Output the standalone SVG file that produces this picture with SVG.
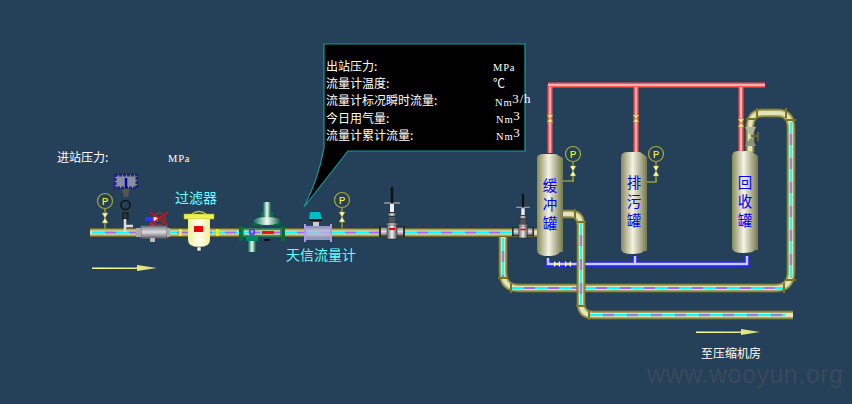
<svg xmlns="http://www.w3.org/2000/svg" width="852" height="404" viewBox="0 0 852 404">
<style>
text{font-family:"Noto Sans CJK SC","Noto Sans",sans-serif}
.w{fill:#fff;font-size:12px}
.c{fill:#6ff;font-size:14px}
.b{fill:#00f;font-size:14.500px;text-anchor:middle}
.u{fill:#fff;font-family:"Liberation Serif",serif;font-size:10.500px;letter-spacing:.8px}
.p0{fill:none;stroke:#6c6c28;stroke-width:9}
.p1{fill:none;stroke:#a5a565;stroke-width:7}
.p2{fill:none;stroke:#e4e4b8;stroke-width:4}
.p4{fill:none;stroke:#0ff;stroke-width:1.800;stroke-dasharray:13 11}
.p5{fill:none;stroke:#96f;stroke-width:1.800;stroke-dasharray:11 13;stroke-dashoffset:-13}
.p6{fill:none;stroke:#88d;stroke-width:2.500;stroke-dasharray:11 13;stroke-dashoffset:-13}
.r1{fill:none;stroke:#f55;stroke-width:5}
.r2{fill:none;stroke:#fcc;stroke-width:1.500}
.bl1{fill:none;stroke:#22e;stroke-width:6}
.bl2{fill:none;stroke:#ccf;stroke-width:2.500}
.pc{fill:none;stroke:#aa3;stroke-width:1.200}
.pt{fill:#ff0;font-family:"Liberation Mono",monospace;font-size:11px;text-anchor:middle}
.st{fill:none;stroke:#993;stroke-width:1.500}
.bow{fill:#ffa;stroke:#884;stroke-width:.5}
.gy{fill:url(#gv);stroke:#222;stroke-width:.5}
</style>
<defs>
<linearGradient id="tk"><stop offset="0" stop-color="#88885a"/><stop offset=".45" stop-color="#f4f4e4"/><stop offset="1" stop-color="#77774c"/></linearGradient>
<linearGradient id="gv"><stop offset="0" stop-color="#666"/><stop offset=".5" stop-color="#eee"/><stop offset="1" stop-color="#555"/></linearGradient>
<linearGradient id="gvv" x2="0" y2="1"><stop offset="0" stop-color="#778"/><stop offset=".5" stop-color="#ddd"/><stop offset="1" stop-color="#667"/></linearGradient>
<linearGradient id="gn"><stop offset="0" stop-color="#065"/><stop offset=".5" stop-color="#efe"/><stop offset="1" stop-color="#054"/></linearGradient>
<linearGradient id="yf"><stop offset="0" stop-color="#ee9"/><stop offset=".5" stop-color="#ffe"/><stop offset="1" stop-color="#ee9"/></linearGradient>
<linearGradient id="ar"><stop offset="0" stop-color="#ff9"/><stop offset="1" stop-color="#dd7"/></linearGradient>
<g id="pg"><circle cx="0" cy="0" r="7.500" class="pc"/><text x="0" y="4" class="pt">P</text><path d="M0 7.500V28" class="st"/><path d="M-3 12H3L-3 22H3Z" class="bow"/></g>
<g id="gate"><path d="M-8 -29H8" stroke="#999" stroke-width="1.500"/><path d="M0 -45V-29" stroke="#111" stroke-width="2.500"/><path d="M-2 -28H2V-20H-2Z" fill="#eee"/><path d="M-4 -19H4V-16H-4Z" class="gy"/><path d="M-3 -15H3V-9H-3Z" fill="#555"/><path d="M-6 -9H6V-6H-6Z" class="gy"/><rect x="-12" y="-5" width="24" height="9" fill="url(#gvv)" stroke="#222"/><path d="M-12 -6V5M12 -6V5" stroke="#222" stroke-width="1.500"/><rect x="-5" y="-7" width="10" height="14" fill="url(#gv)" stroke="#222" stroke-width=".5"/><rect x="-3" y="-4" width="6" height="2" fill="#e00"/></g>
</defs>
<rect width="852" height="404" fill="#254059"/>
<g id="connectors">
<path id="red-main" class="r1" d="M548 85H765M550 85V153M636 85V152M741 85V152"/>
<path class="r2" d="M548 85H765M550 87V153M636 87V152M741 87V152"/>
<path class="bl1" d="M548 259V264H747V256M635 264V256"/>
<path class="bl2" d="M548 258V264H747V256M635 264V256"/>
<g id="return-pipe">
<path class="p0" d="M503 232V272Q503 288 519 288H775Q791 288 791 272V128Q791 113 778 113H762Q750 113 750 128V152"/>
<path class="p1" d="M503 232V272Q503 288 519 288H775Q791 288 791 272V128Q791 113 778 113H762Q750 113 750 128V152"/>
<path class="p2" d="M503 232V272Q503 288 519 288H775Q791 288 791 272V128Q791 113 778 113H762Q750 113 750 128V152"/>
<path class="p6" d="M503 238V278M791 278V122"/>
<path class="p4" d="M503 238V278M511 288H783M791 278V122"/>
<path class="p5" d="M511 288H783"/>
</g>
<g id="outlet-pipe">
<path class="p0" d="M561 214H571Q581 214 581 226V303Q581 315 593 315H793"/>
<path class="p1" d="M561 214H571Q581 214 581 226V303Q581 315 593 315H793"/>
<path class="p2" d="M561 214H571Q581 214 581 226V303Q581 315 593 315H793"/>
<path class="p6" d="M581 222V306M590 315H785"/>
<path class="p4" d="M581 222V306M590 315H785"/>
</g>
<g id="main-pipe">
<path class="p0" d="M90 232.500H538"/><path class="p1" d="M90 232.500H538"/><path class="p2" d="M90 232.500H538"/>
<path class="p4" d="M92 232.500H530"/><path class="p5" d="M92 232.500H530"/>
</g>
<g fill="#7d7420">
<rect x="498" y="277" width="10" height="2"/><rect x="510" y="283" width="2" height="10"/><rect x="783" y="283" width="2" height="10"/><rect x="786" y="279" width="10" height="2"/>
<rect x="576" y="221" width="10" height="2"/><rect x="574" y="209" width="2" height="10"/><rect x="576" y="305" width="10" height="2"/><rect x="588" y="310" width="2" height="10"/>
<rect x="785" y="108" width="2" height="10"/><rect x="786" y="119" width="10" height="2"/><rect x="756" y="108" width="2" height="10"/><rect x="746" y="118" width="10" height="2"/>
</g>
</g>
<g id="tank-buffer"><path d="M537 158Q537 154 544 154H556Q559 156 563 158V252H560Q558 256 548 256Q537 256 537 250Z" fill="url(#tk)"/><text x="550" y="191" class="b">缓</text><text x="550" y="210" class="b">冲</text><text x="550" y="229" class="b">罐</text></g>
<g id="tank-drain"><path d="M621 157Q621 152 628 152H640Q643 154 647 157V251H644Q642 254 632 254Q621 254 621 249Z" fill="url(#tk)"/><text x="634" y="188" class="b">排</text><text x="634" y="207" class="b">污</text><text x="634" y="226" class="b">罐</text></g>
<g id="tank-recovery"><path d="M732 156Q732 151 739 151H751Q754 153 758 156V250H755Q753 253 743 253Q732 253 732 248Z" fill="url(#tk)"/><text x="745" y="188" class="b">回</text><text x="745" y="207" class="b">收</text><text x="745" y="226" class="b">罐</text></g>
<g id="red-valves" fill="#ff8" stroke="#a83" stroke-width=".6">
<path d="M547 115H553L547 122H553Z"/><path d="M633 115H639L633 122H639Z"/><path d="M738 119H744L738 127H744Z"/>
</g>
<g id="recovery-valve"><path d="M745 127H756L751 137Z" fill="#b5b59a"/><path d="M745 146H756L751 137Z" fill="#8f8f80"/><path d="M751 136H758M758 132V141" stroke="#664" stroke-width="1.800" fill="none"/></g>
<g id="blue-valves" fill="#ff8"><path d="M554 261V267L560 261V267Z"/><path d="M565 261V267L571 261V267Z"/></g>
<use id="pg-buffer" href="#pg" x="573" y="154"/>
<path d="M573 178V181H563" class="st"/>
<use id="pg-drain" href="#pg" x="656" y="154"/>
<path d="M656 178V182H647" class="st"/>
<use id="pg-flow" href="#pg" x="342" y="200"/>
<use id="pg-inlet" href="#pg" x="105" y="201"/>
<g id="transmitter">
<rect x="115" y="175" width="22" height="13" fill="#88919a" stroke="#228" stroke-width="3" stroke-dasharray="3 1"/>
<path d="M126 178V188" stroke="#00a" stroke-width="2.500"/>
<path d="M122 189H130L128 197H124Z" fill="#555"/>
<circle cx="125.500" cy="205" r="4.500" fill="none" stroke="#111" stroke-width="1.500"/>
<rect x="123" y="213" width="5" height="6" fill="#333" stroke="#111"/>
<path d="M125 219V232M125 226H133" stroke="#ddd" stroke-width="2.500" fill="none"/>
</g>
<g id="ball-valve">
<rect x="141" y="226" width="26" height="12" fill="url(#gvv)" stroke="#666"/>
<path d="M136 228H141V237H136ZM167 228H170V237H167Z" fill="#aaa"/>
<path d="M150 238h5v4h-5z" fill="#bbb"/>
<path d="M150 222L156 226H150Z" fill="#855"/>
<rect x="145" y="217" width="9" height="4" fill="#33f"/>
<rect x="153" y="217" width="5" height="4" fill="#ddd"/>
<circle cx="159" cy="219" r="6" fill="none" stroke="#a33" stroke-width="1"/>
<path d="M150 212L168 225M168 212L150 225" stroke="#f00" stroke-width="1.500"/>
</g>
<g id="filter">
<text x="175" y="203" class="c">过滤器</text>
<rect x="184" y="214" width="30" height="5" fill="#ee5" stroke="#aa2" stroke-width=".5"/>
<path d="M192 214Q199 209 206 214" fill="none" stroke="#cc3" stroke-width="1.500"/>
<path d="M188 219H210V240Q210 247 199 247Q188 247 188 240Z" fill="url(#yf)"/>
<rect x="194" y="226" width="9" height="6" fill="#e00"/>
<rect x="197" y="247" width="4" height="4" fill="#eee" stroke="#222" stroke-width=".5"/>
<rect x="179" y="229" width="3" height="7" fill="#ee0"/><rect x="216" y="229" width="3" height="7" fill="#ee0"/>
</g>
<g id="regulator">
<rect x="239" y="226" width="4" height="15" fill="#0a6a3a"/><rect x="281" y="226" width="4" height="15" fill="#0a6a3a"/>
<rect x="243" y="229" width="38" height="7" fill="none" stroke="#186" stroke-width="1.500"/>
<path d="M252 223H281V226H252Z" fill="#064"/>
<ellipse cx="267" cy="221" rx="14" ry="4" fill="url(#gn)"/>
<path d="M261 212H273V217H261Z" fill="#074"/>
<rect x="263" y="202" width="8" height="15" rx="2" fill="url(#gn)"/>
<path d="M246 236H258V241H246Z" fill="#086"/>
<rect x="248" y="241" width="8" height="11" fill="url(#gn)"/>
<circle cx="252" cy="232" r="2.500" fill="none" stroke="#44c" stroke-width="1.500"/>
<rect x="262" y="231" width="12" height="3" fill="#e11"/>
<rect x="264" y="239" width="6" height="2" fill="#111"/>
</g>
<g id="flowmeter">
<text x="286" y="260" class="c">天信流量计</text>
<rect x="305" y="226" width="26" height="14" fill="#b5b5e8" opacity=".75"/>
<path d="M305 224V242M331 224V242" stroke="#a9e" stroke-width="2"/>
<path d="M313 222H319V226H313Z" fill="#ccc"/>
<path d="M309 219H322V221H309Z" fill="#111"/>
<path d="M310 212H320L322 219H309Z" fill="#0bc"/>
</g>
<use id="gate-1" href="#gate" x="392" y="232"/>
<use id="gate-2" href="#gate" transform="translate(523 232) scale(.85)"/>
<g id="callout">
<path d="M324 44H525V151H348L304 207Q318 180 324 148Z" fill="#000" stroke="#1a9a9a" stroke-width="1.200"/>
<text x="326" y="71" class="w">出站压力:</text>
<text x="326" y="88" class="w">流量计温度:</text>
<text x="326" y="105" class="w">流量计标况瞬时流量:</text>
<text x="326" y="123" class="w">今日用气量:</text>
<text x="326" y="140" class="w">流量计累计流量:</text>
<text x="493" y="71" class="u">MPa</text>
<text x="493" y="88" fill="#fff" font-size="12">℃</text>
<text x="495" y="106" class="u">Nm<tspan dy="-3" font-size="13">3/h</tspan></text>
<text x="496" y="123" class="u">Nm<tspan dy="-3" font-size="13">3</tspan></text>
<text x="496" y="140" class="u">Nm<tspan dy="-3" font-size="13">3</tspan></text>
</g>
<g id="labels">
<text x="57" y="162" class="w">进站压力:</text>
<text x="168" y="162" class="u">MPa</text>
<text x="701" y="358" class="w">至压缩机房</text>
</g>
<g id="arrows">
<path d="M92 267.500H137L137 265L157 268L137 271V269H92Z" fill="url(#ar)"/>
<path d="M696 331.500H741L741 329L760 332L741 335V333H696Z" fill="url(#ar)"/>
</g>
<text id="watermark" x="647" y="383" fill="#3a4a5a" font-size="25" textLength="196" style="font-family:'Liberation Sans',sans-serif">www.wooyun.org</text>
</svg>
